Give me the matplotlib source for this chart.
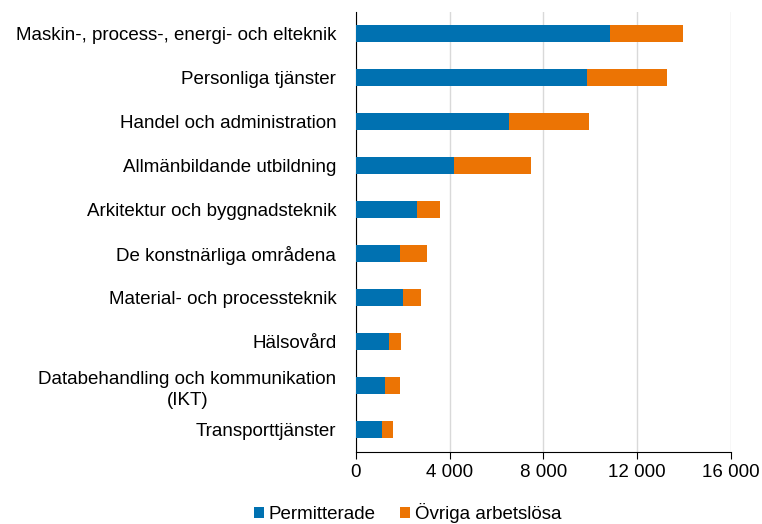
import matplotlib
matplotlib.use("Agg")
import matplotlib.pyplot as plt
from matplotlib.ticker import FuncFormatter

plt.rcParams['font.family'] = ['Liberation Sans', 'DejaVu Sans']

categories = [
    "Maskin-, process-, energi- och elteknik",
    "Personliga tjänster",
    "Handel och administration",
    "Allmänbildande utbildning",
    "Arkitektur och byggnadsteknik",
    "De konstnärliga områdena",
    "Material- och processteknik",
    "Hälsovård",
    "Databehandling och kommunikation\n(IKT)",
    "Transporttjänster",
]
permitterade = [10830, 9880, 6530, 4200, 2625, 1890, 2015, 1405, 1262, 1135]
ovriga = [3130, 3410, 3410, 3280, 965, 1160, 755, 540, 612, 468]
series_names = ["Permitterade", "Övriga arbetslösa"]
xticks = [0, 4000, 8000, 12000, 16000]

blue = "#0071B1"
orange = "#EC7404"
fs = 13.5

fig = plt.figure(figsize=(7.62, 5.24), dpi=100)
ax = fig.add_axes([0.4668, 0.138, 0.4925, 0.840])

y = list(range(len(categories)))
ax.barh(y, permitterade, height=0.4, color=blue, label=series_names[0], zorder=3)
ax.barh(y, ovriga, left=permitterade, height=0.4, color=orange, label=series_names[1], zorder=3)

ax.set_ylim(len(categories) - 0.5, -0.5)
ax.set_xlim(0, 16000)
ax.set_xticks(xticks)
ax.xaxis.set_major_formatter(FuncFormatter(lambda v, p: f"{int(v):,}".replace(",", " ")))
ax.set_yticks(y)
ax.set_yticklabels(categories, fontsize=fs)
for lab in ax.get_yticklabels():
    lab.set_multialignment('center')
    lab.set_linespacing(1.3)
ax.tick_params(axis='y', length=0, pad=14)
ax.tick_params(axis='x', labelsize=fs, length=5, direction='out', color='black', pad=4)
ax.grid(axis='x', color='#d9d9d9', linewidth=1, zorder=0)
for s in ['top', 'right']:
    ax.spines[s].set_visible(False)
ax.spines['left'].set_color('black')
ax.spines['bottom'].set_color('black')

fig.legend(loc='lower center', bbox_to_anchor=(0.535, -0.03), ncol=2, frameon=False,
           fontsize=fs, handlelength=0.55, handleheight=0.55, handletextpad=0.25, columnspacing=1.3)

fig.savefig("out.png", dpi=100)
